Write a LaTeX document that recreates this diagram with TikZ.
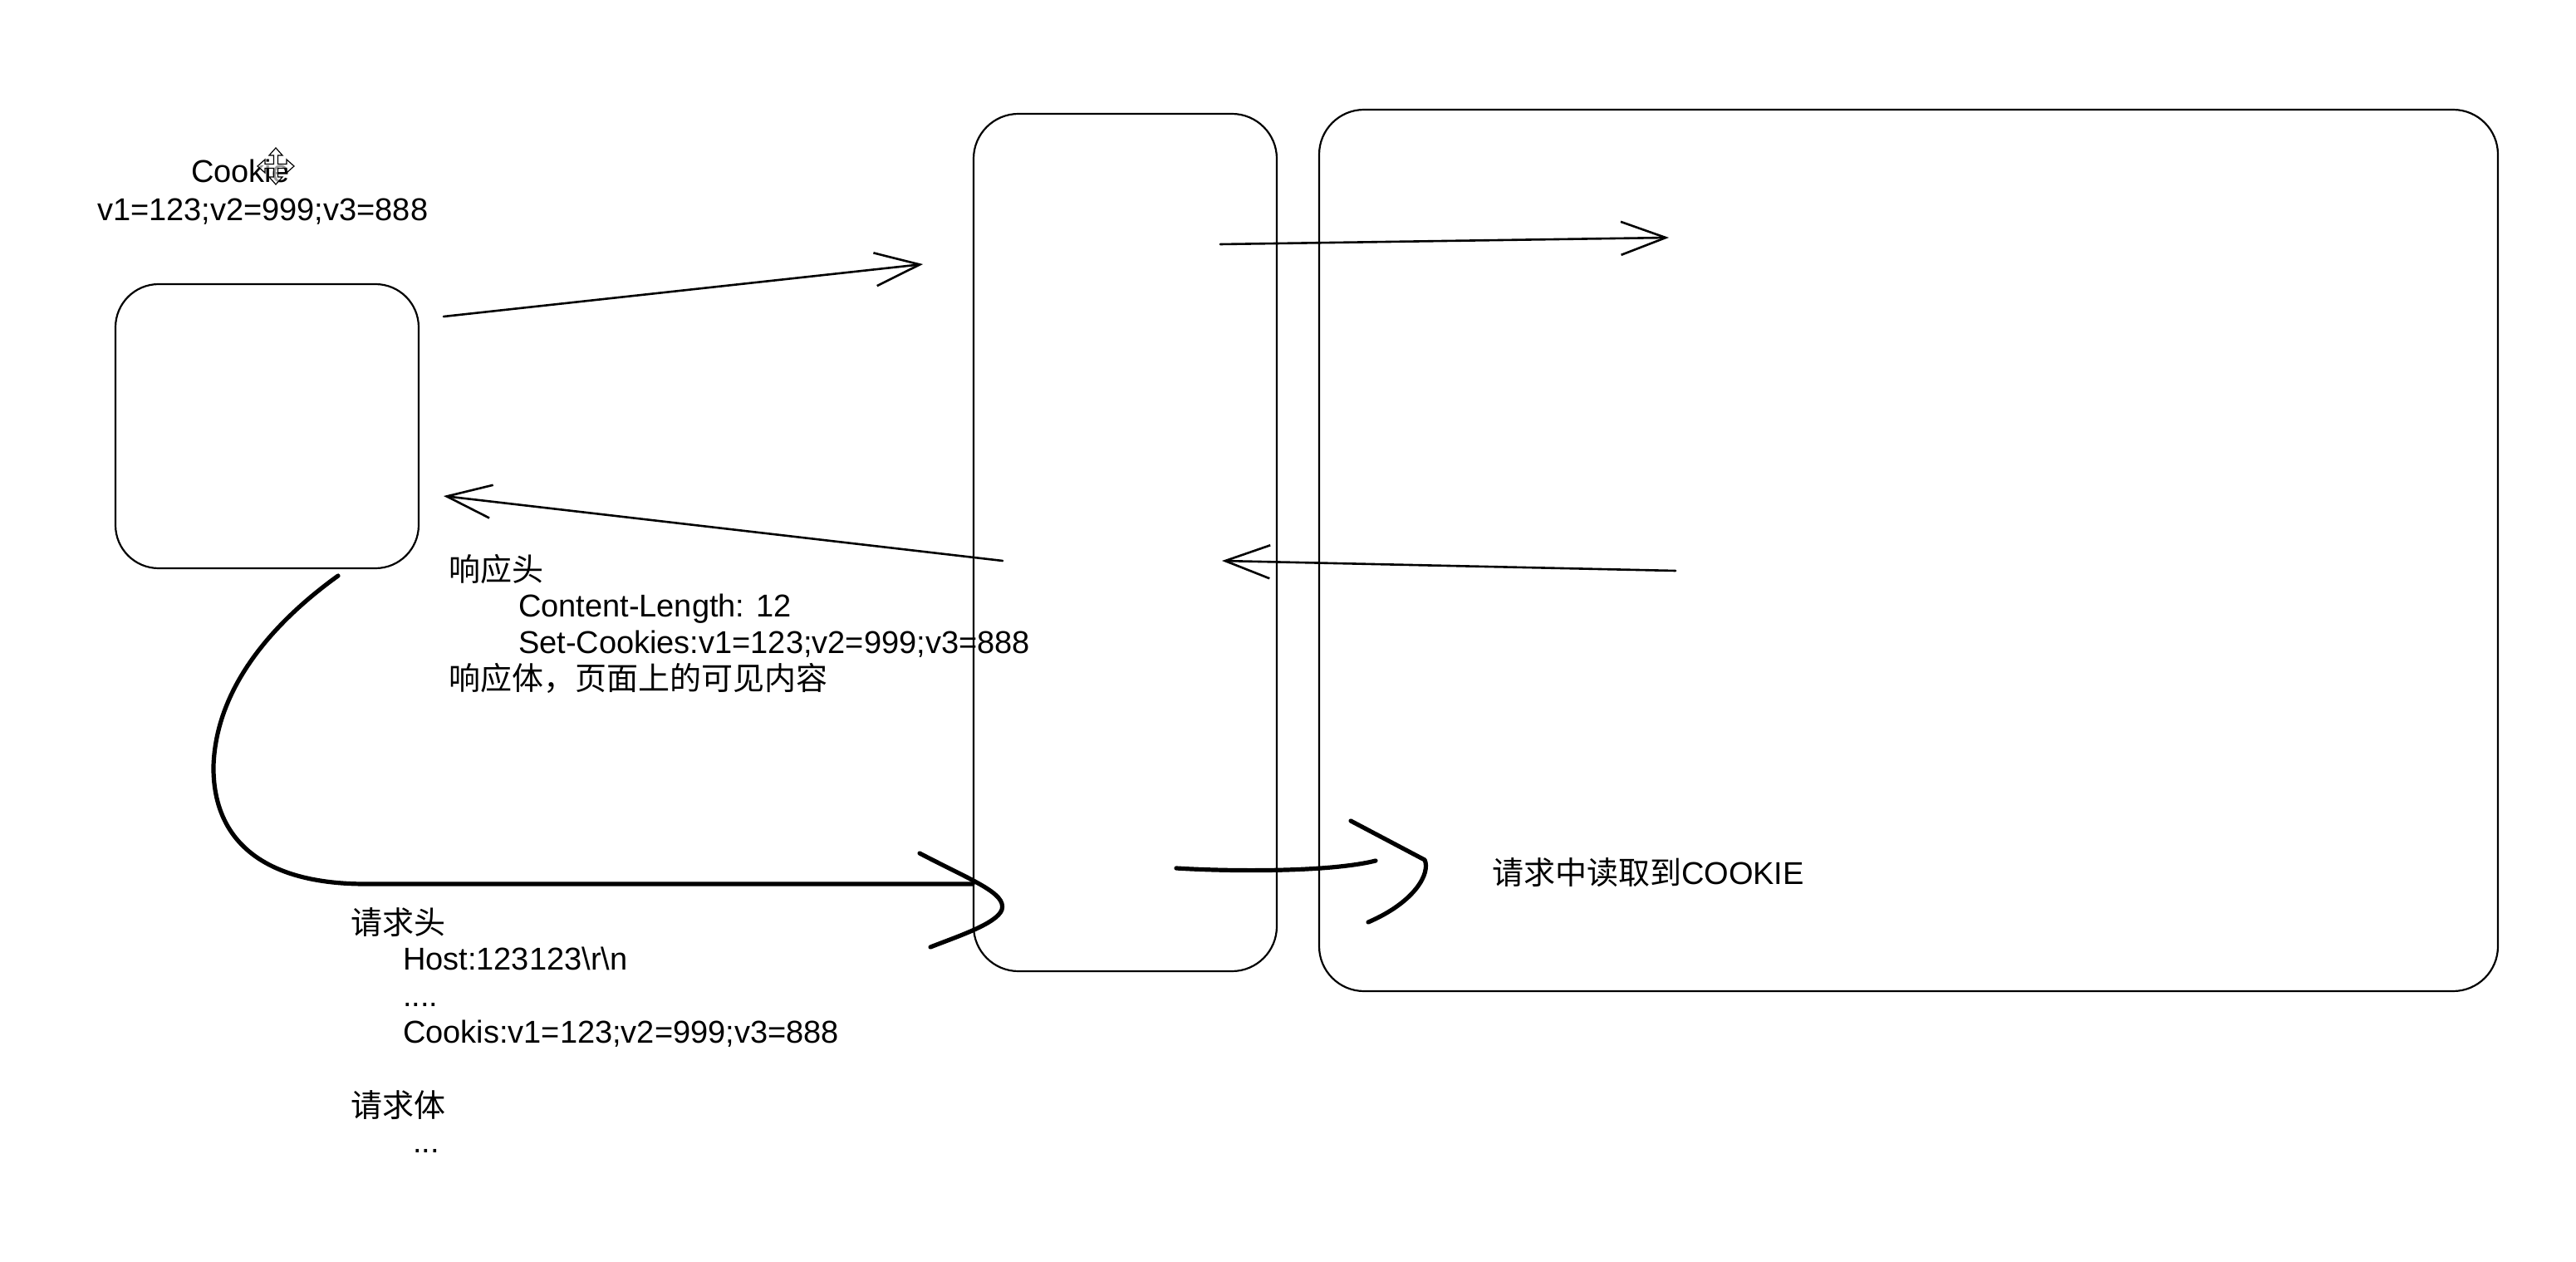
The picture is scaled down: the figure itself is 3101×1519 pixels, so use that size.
\documentclass[tikz,border=0pt]{standalone}
\usepackage{fontspec}
\setmainfont{Liberation Sans}
\newfontfamily\cjk{Noto Sans CJK SC}
\usetikzlibrary{arrows.meta,calc}
\begin{document}
\begin{tikzpicture}[x=0.5pt,y=-0.5pt,
  box/.style={draw=black,line width=1.1pt,rounded corners=26pt,inner sep=0pt,outer sep=0pt},
  thinline/.style={draw=black,line width=1.3pt,line cap=round},
  barb/.style={-{Straight Barb[length=27pt,width=20pt]}},
  thickline/.style={draw=black,line width=2.6pt,line cap=round,line join=round},
  txt/.style={anchor=base west,inner sep=0pt,outer sep=0pt,font=\fontsize{19pt}{22pt}\selectfont}
]
\useasboundingbox (0,0) rectangle (3101,1519);
\fill[white] (0,0) rectangle (3101,1519);

% boxes
\node[box,minimum width=182.5pt,minimum height=171pt] (client) at (321.5,513) {};
\node[box,minimum width=182.5pt,minimum height=516pt,rounded corners=27pt] (proxy) at (1354.5,653) {};
\node[box,minimum width=709.5pt,minimum height=530.5pt,rounded corners=27pt] (server) at (2297.5,662.5) {};

% thin arrows
\coordinate (a1s) at (534,381); \coordinate (a1e) at (1111,318);
\coordinate (a2s) at (1207,675); \coordinate (a2e) at (534,597);
\coordinate (a3s) at (1469,294); \coordinate (a3e) at (2009,286);
\coordinate (a4s) at (2017,687); \coordinate (a4e) at (1471,675);
\draw[thinline,barb] (a1s) -- (a1e);
\draw[thinline,barb] (a2s) -- (a2e);
\draw[thinline,barb] (a3s) -- (a3e);
\draw[thinline,barb] (a4s) -- (a4e);

% thick curved request arrow
\coordinate (c0) at (407,693);
\coordinate (reqtip) at (1171,1064);
\draw[thickline] (c0) .. controls (325,752) and (260,830) .. (257,922)
  .. controls (256,1010) and (315,1064) .. (440,1064) -- (reqtip);
\draw[thickline] ($(reqtip)+(-64,-37)$) .. controls ($(reqtip)+(-1,-4)$) and ($(reqtip)+(41,11)$) .. ($(reqtip)+(35,31)$)
  .. controls ($(reqtip)+(29,48)$) and ($(reqtip)+(-21,64)$) .. ($(reqtip)+(-51,76)$);

% thick short arrow into server
\coordinate (r0) at (1416,1045);
\coordinate (r1) at (1656,1036);
\draw[thickline] (r0) .. controls (1480,1049) and (1600,1050) .. (r1);
\draw[thickline] ($(r1)+(-30,-48)$) -- ($(r1)+(59,-1)$) .. controls ($(r1)+(66,14)$) and ($(r1)+(49,49)$) .. ($(r1)+(-9,74)$);

% texts
\node[txt] (cookielbl) at (230,220) {Cookie};
\node[txt] (cookieval) at (117,266) {v1=123;v2=999;v3=888};
\node[txt] (resph) at (540,699) {\cjk 响应头};
\node[txt] (clen) at (624,742) {Content-Length: 12};
\node[txt] (setck) at (624,786) {Set-Cookies:v1=123;v2=999;v3=888};
\node[txt] (respb) at (540,830) {\cjk 响应体，页面上的可见内容};
\node[txt] (reqh) at (422,1124) {\cjk 请求头};
\node[txt] (host) at (485,1167) {Host:123123\textbackslash r\textbackslash n};
\node[txt] (dotsa) at (485,1211) {....};
\node[txt] (reqck) at (485,1255) {Cookis:v1=123;v2=999;v3=888};
\node[txt] (reqb) at (422,1344) {\cjk 请求体};
\node[txt] (dotsb) at (497,1387) {...};
\node[txt] (readck) at (1796,1064) {{\cjk 请求中读取到}COOKIE};

% move cursor
\coordinate (cur) at (332,200);
\draw[line width=0.6pt,fill=white,fill opacity=0.6,shift={(cur)}]
  (0,-22) -- (8,-13) -- (2.5,-13) -- (2.5,-2.5) -- (13,-2.5) -- (13,-8) -- (22,0) -- (13,8) -- (13,2.5)
  -- (2.5,2.5) -- (2.5,13) -- (8,13) -- (0,22) -- (-8,13) -- (-2.5,13) -- (-2.5,2.5) -- (-13,2.5)
  -- (-13,8) -- (-22,0) -- (-13,-8) -- (-13,-2.5) -- (-2.5,-2.5) -- (-2.5,-13) -- (-8,-13) -- cycle;
\end{tikzpicture}
\end{document}
